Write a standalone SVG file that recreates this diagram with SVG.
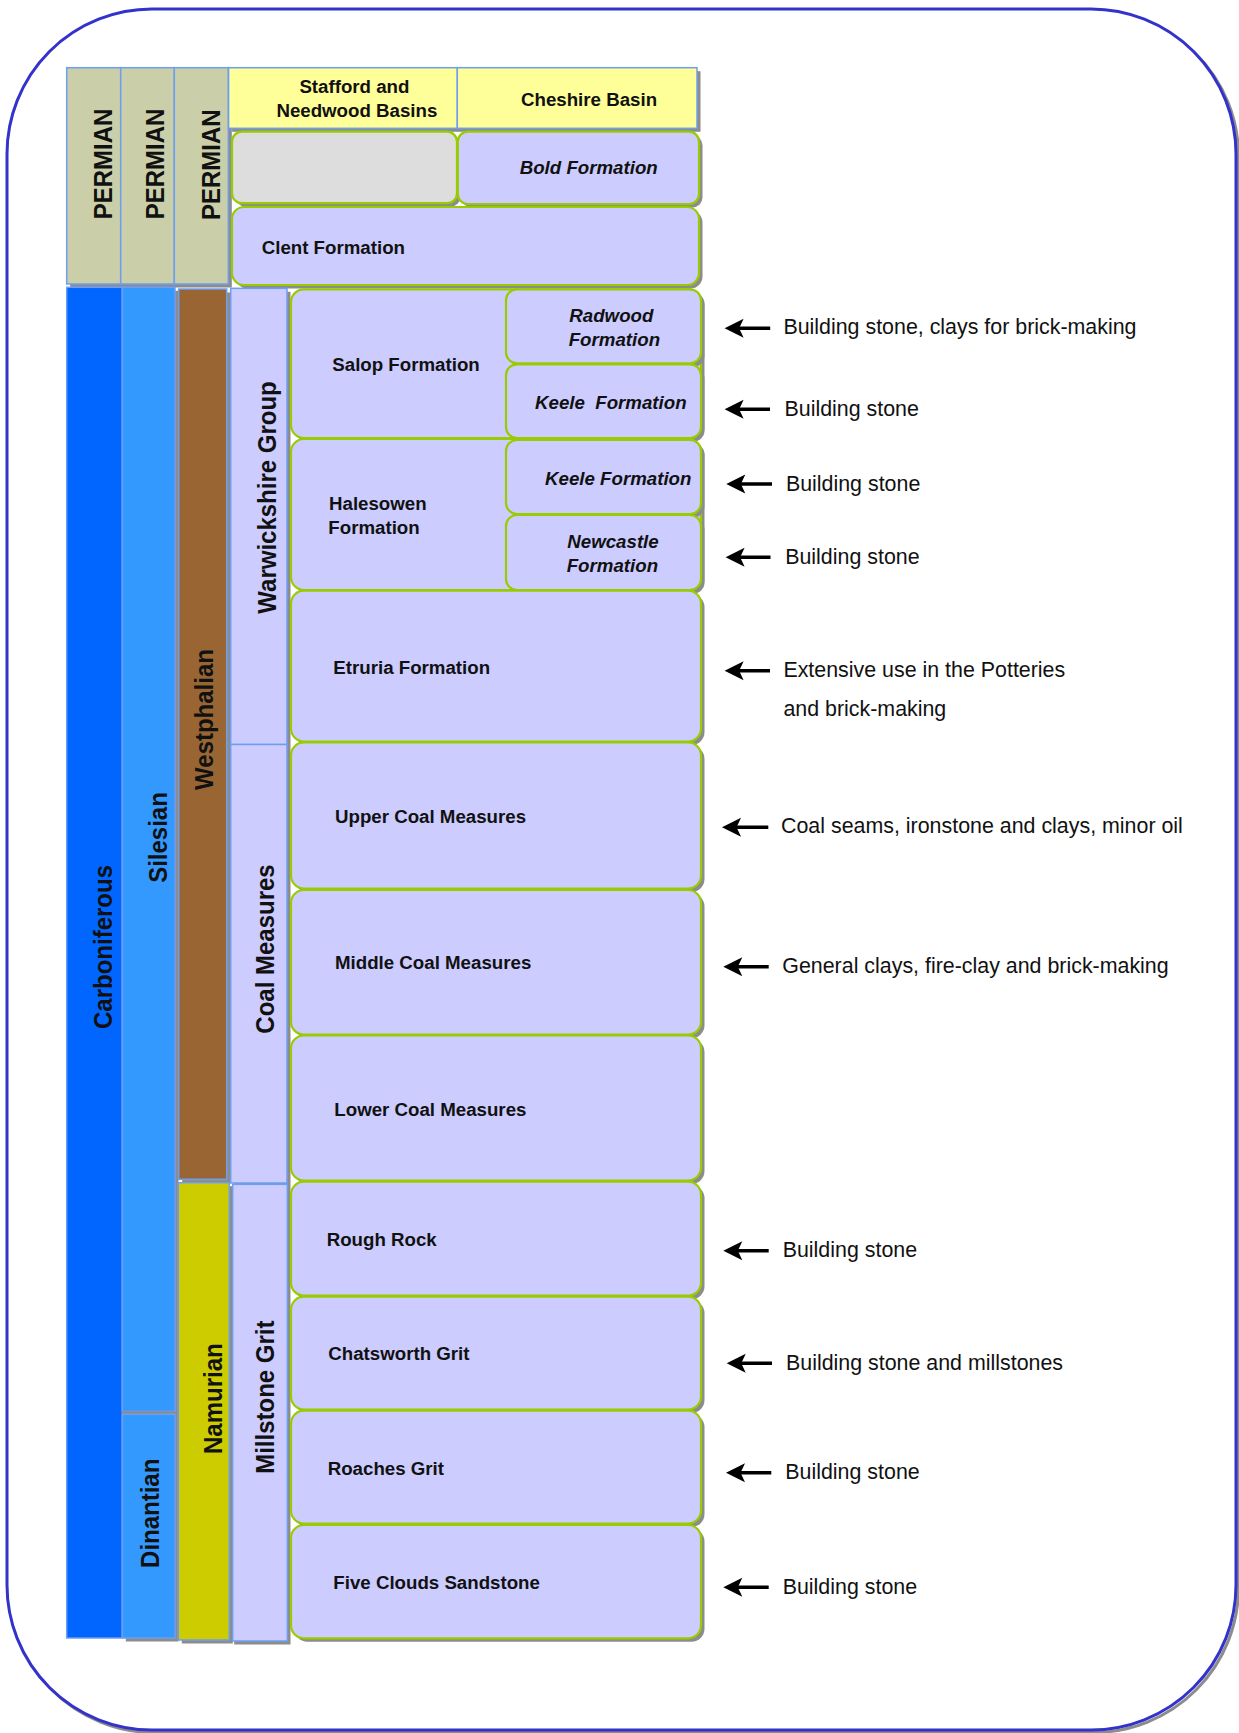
<svg xmlns="http://www.w3.org/2000/svg" width="1239" height="1733" viewBox="0 0 1239 1733">
  <defs>
    <style>
      .col { stroke: #6E9EF0; stroke-width: 1.5; }
      .shd { fill: #8C8C8C; }
      .box { fill: #CCCCFF; stroke: #99CC00; stroke-width: 2.2; }
      .lbl { font-family: "Liberation Sans", Arial, sans-serif; font-weight: bold; font-size: 18.7px; fill: #111; }
      .ital { font-style: italic; }
      .vert { font-family: "Liberation Sans", Arial, sans-serif; font-weight: bold; font-size: 24px; fill: #111; text-anchor: middle; }
      .use { font-family: "Liberation Sans", Arial, sans-serif; font-size: 21.4px; fill: #111; }
      .arrow { stroke: #000; stroke-width: 3.4; fill: none; }
    </style>
    <!-- barbed arrowhead; tip sits 10px beyond the line end -->
    <marker id="head" markerUnits="userSpaceOnUse" markerWidth="24" markerHeight="22" viewBox="-22 -11 24 22" refX="-10" refY="0" orient="auto">
      <path d="M0,0 Q-9,-4.5 -19,-9.5 Q-16.5,-4 -14.5,0 Q-16.5,4 -19,9.5 Q-9,4.5 0,0 Z" fill="#000"/>
    </marker>
  </defs>

  <rect width="1239" height="1733" fill="#FFFFFF"/>

  <!-- outer frame -->
  <g id="frame">
    <rect x="9.5" y="11.5" width="1229" height="1721" rx="145" ry="145" fill="none" stroke="#8C8C8C" stroke-width="3"/>
    <rect x="7" y="9" width="1229" height="1721" rx="145" ry="145" fill="#FFFFFF" stroke="#3333CC" stroke-width="3"/>
  </g>

  <!-- Permian cells -->
  <g id="permian">
    <rect class="shd" x="70.2" y="71.2" width="161.6" height="216.3"/>
    <g id="permian-1">
      <rect class="col" x="66.7" y="67.7" width="54" height="216.3" fill="#CACFA9"/>
      <text class="vert" transform="translate(111.6,164) rotate(-90) scale(1,1.08)">PERMIAN</text>
    </g>
    <g id="permian-2">
      <rect class="col" x="120.7" y="67.7" width="53.6" height="216.3" fill="#CACFA9"/>
      <text class="vert" transform="translate(164.4,164) rotate(-90) scale(1,1.08)">PERMIAN</text>
    </g>
    <g id="permian-3">
      <rect class="col" x="174.3" y="67.7" width="54" height="216.3" fill="#CACFA9"/>
      <text class="vert" transform="translate(219.5,164.7) rotate(-90) scale(1,1.08)">PERMIAN</text>
    </g>
  </g>

  <!-- basin headers -->
  <g id="headers">
    <rect class="shd" x="232.1" y="71.2" width="468.4" height="60.6"/>
    <g id="header-stafford">
      <rect class="col" x="228.6" y="67.7" width="228.7" height="60.6" fill="#FFFF99"/>
      <text class="lbl" x="299.4" y="92.7">Stafford and</text>
      <text class="lbl" x="276.4" y="117.3">Needwood Basins</text>
    </g>
    <g id="header-cheshire">
      <rect class="col" x="457.3" y="67.7" width="239.7" height="60.6" fill="#FFFF99"/>
      <text class="lbl" x="521" y="106">Cheshire Basin</text>
    </g>
  </g>

  <!-- Permian formations -->
  <g id="stafford-blank">
    <rect class="shd" x="235.5" y="135.2" width="225" height="71.5" rx="10"/>
    <rect x="232" y="131.7" width="225" height="71.5" rx="10" fill="#DDDDDD" stroke="#99CC00" stroke-width="2.2"/>
  </g>
  <g id="bold-formation">
    <rect class="shd" x="461.3" y="135.2" width="241.2" height="72.3" rx="10"/>
    <rect class="box" x="457.8" y="131.7" width="241.2" height="72.3" rx="10"/>
    <text class="lbl ital" x="519.7" y="174.3">Bold Formation</text>
  </g>
  <g id="clent-formation">
    <rect class="shd" x="235.5" y="210.5" width="467" height="78" rx="12"/>
    <rect class="box" x="232" y="207" width="467" height="78" rx="12"/>
    <text class="lbl" x="261.7" y="254">Clent Formation</text>
  </g>

  <!-- Carboniferous columns -->
  <g id="carboniferous">
    <rect class="col" x="66.7" y="287.3" width="55.6" height="1350.7" fill="#0066FF"/>
    <text class="vert" transform="translate(111.7,947) rotate(-90) scale(1,1.08)">Carboniferous</text>
  </g>
  <rect class="shd" x="125.8" y="290.8" width="52.7" height="1350.7"/>
  <g id="silesian">
    <rect class="col" x="122.3" y="287.3" width="52.7" height="1124" fill="#3399FF"/>
    <text class="vert" transform="translate(166.7,837.5) rotate(-90) scale(1,1.08)">Silesian</text>
  </g>
  <rect fill="#8C8C8C" x="122.3" y="1411.3" width="52.7" height="3"/>
  <g id="dinantian">
    <rect class="col" x="122.3" y="1414.3" width="52.7" height="223.7" fill="#3399FF"/>
    <text class="vert" transform="translate(158.6,1513.3) rotate(-90) scale(1,1.08)">Dinantian</text>
  </g>

  <g id="westphalian">
    <rect class="shd" x="182.2" y="292.5" width="48" height="890.3"/>
    <rect class="col" x="178.7" y="289" width="48" height="890.3" fill="#996633"/>
    <text class="vert" transform="translate(212.7,719.5) rotate(-90) scale(1,1.08)">Westphalian</text>
  </g>
  <g id="namurian">
    <rect class="shd" x="181.8" y="1186.2" width="51" height="457.3"/>
    <rect class="col" x="178.3" y="1182.7" width="51" height="457.3" fill="#CCCC00"/>
    <text class="vert" transform="translate(222,1398.7) rotate(-90) scale(1,1.08)">Namurian</text>
  </g>

  <rect class="shd" x="234.2" y="291.8" width="56.3" height="1352.7"/>
  <g id="warwickshire-group">
    <rect class="col" x="230.7" y="288.3" width="56.3" height="456.2" fill="#CCCCFF"/>
    <text class="vert" transform="translate(276,497.5) rotate(-90) scale(1,1.08)">Warwickshire Group</text>
  </g>
  <g id="coal-measures">
    <rect class="col" x="230.7" y="744.5" width="56.3" height="438.5" fill="#CCCCFF"/>
    <text class="vert" transform="translate(274,949) rotate(-90) scale(1,1.08)">Coal Measures</text>
  </g>
  <g id="millstone-grit">
    <rect class="col" x="232.7" y="1184.3" width="54.6" height="456.7" fill="#CCCCFF"/>
    <text class="vert" transform="translate(274,1397.2) rotate(-90) scale(1,1.08)">Millstone Grit</text>
  </g>

  <!-- formations -->
  <g id="salop-formation">
    <rect class="shd" x="294.5" y="292.8" width="410" height="148.7" rx="13"/>
    <rect class="box" x="291" y="289.3" width="410" height="148.7" rx="13"/>
    <text class="lbl" x="332.3" y="371">Salop Formation</text>
  </g>
  <g id="radwood-formation">
    <rect class="shd" x="509.5" y="292.8" width="195" height="74" rx="11"/>
    <rect class="box" x="506" y="289.3" width="195" height="74" rx="11"/>
    <text class="lbl ital" x="569.3" y="322.3">Radwood</text>
    <text class="lbl ital" x="568.7" y="346">Formation</text>
  </g>
  <g id="keele-formation-1">
    <rect class="shd" x="509.5" y="367.8" width="195" height="73.7" rx="11"/>
    <rect class="box" x="506" y="364.3" width="195" height="73.7" rx="11"/>
    <text class="lbl ital" x="535" y="409" xml:space="preserve">Keele  Formation</text>
  </g>
  <g id="halesowen-formation">
    <rect class="shd" x="294.5" y="442.5" width="410" height="151" rx="13"/>
    <rect class="box" x="291" y="439" width="410" height="151" rx="13"/>
    <text class="lbl" x="329" y="510">Halesowen</text>
    <text class="lbl" x="328.3" y="534">Formation</text>
  </g>
  <g id="keele-formation-2">
    <rect class="shd" x="509.5" y="443.5" width="195" height="74" rx="11"/>
    <rect class="box" x="506" y="440" width="195" height="74" rx="11"/>
    <text class="lbl ital" x="545" y="485">Keele Formation</text>
  </g>
  <g id="newcastle-formation">
    <rect class="shd" x="509.5" y="518.5" width="195" height="75" rx="11"/>
    <rect class="box" x="506" y="515" width="195" height="75" rx="11"/>
    <text class="lbl ital" x="567.3" y="547.7">Newcastle</text>
    <text class="lbl ital" x="566.7" y="571.7">Formation</text>
  </g>
  <g id="etruria-formation">
    <rect class="shd" x="294.5" y="594.1" width="410" height="150.9" rx="13"/>
    <rect class="box" x="291" y="590.6" width="410" height="150.9" rx="13"/>
    <text class="lbl" x="333.3" y="673.5">Etruria Formation</text>
  </g>
  <g id="upper-coal-measures">
    <rect class="shd" x="294.5" y="745.9" width="410" height="146.2" rx="13"/>
    <rect class="box" x="291" y="742.4" width="410" height="146.2" rx="13"/>
    <text class="lbl" x="335" y="823">Upper Coal Measures</text>
  </g>
  <g id="middle-coal-measures">
    <rect class="shd" x="294.5" y="893.5" width="410" height="144.7" rx="13"/>
    <rect class="box" x="291" y="890" width="410" height="144.7" rx="13"/>
    <text class="lbl" x="335" y="969.4">Middle Coal Measures</text>
  </g>
  <g id="lower-coal-measures">
    <rect class="shd" x="294.5" y="1039" width="410" height="145" rx="13"/>
    <rect class="box" x="291" y="1035.5" width="410" height="145" rx="13"/>
    <text class="lbl" x="334.3" y="1116">Lower Coal Measures</text>
  </g>
  <g id="rough-rock">
    <rect class="shd" x="294.5" y="1185.2" width="410" height="114" rx="13"/>
    <rect class="box" x="291" y="1181.7" width="410" height="114" rx="13"/>
    <text class="lbl" x="326.7" y="1246">Rough Rock</text>
  </g>
  <g id="chatsworth-grit">
    <rect class="shd" x="294.5" y="1300.2" width="410" height="112.8" rx="13"/>
    <rect class="box" x="291" y="1296.7" width="410" height="112.8" rx="13"/>
    <text class="lbl" x="328.3" y="1360">Chatsworth Grit</text>
  </g>
  <g id="roaches-grit">
    <rect class="shd" x="294.5" y="1414.2" width="410" height="112.8" rx="13"/>
    <rect class="box" x="291" y="1410.7" width="410" height="112.8" rx="13"/>
    <text class="lbl" x="327.7" y="1475">Roaches Grit</text>
  </g>
  <g id="five-clouds-sandstone">
    <rect class="shd" x="294.5" y="1528.5" width="410" height="113.3" rx="13"/>
    <rect class="box" x="291" y="1525" width="410" height="113.3" rx="13"/>
    <text class="lbl" x="333.3" y="1589">Five Clouds Sandstone</text>
  </g>

  <!-- pointers to economic uses (x2 = tip + 10) -->
  <g id="connectors">
    <line class="arrow" x1="770.2" y1="328.3" x2="734.6" y2="328.3" marker-end="url(#head)"/>
    <line class="arrow" x1="770" y1="409.3" x2="734.6" y2="409.3" marker-end="url(#head)"/>
    <line class="arrow" x1="772" y1="484" x2="736.3" y2="484" marker-end="url(#head)"/>
    <line class="arrow" x1="770.5" y1="557.3" x2="735.6" y2="557.3" marker-end="url(#head)"/>
    <line class="arrow" x1="770" y1="670.7" x2="734.6" y2="670.7" marker-end="url(#head)"/>
    <line class="arrow" x1="768.3" y1="827.3" x2="732" y2="827.3" marker-end="url(#head)"/>
    <line class="arrow" x1="768.7" y1="966.7" x2="733.3" y2="966.7" marker-end="url(#head)"/>
    <line class="arrow" x1="768.7" y1="1250.7" x2="733.3" y2="1250.7" marker-end="url(#head)"/>
    <line class="arrow" x1="772" y1="1363.3" x2="736.7" y2="1363.3" marker-end="url(#head)"/>
    <line class="arrow" x1="771.3" y1="1472.7" x2="736" y2="1472.7" marker-end="url(#head)"/>
    <line class="arrow" x1="768.7" y1="1587.3" x2="733.3" y2="1587.3" marker-end="url(#head)"/>
  </g>

  <g id="uses">
    <text class="use" x="783.4" y="334.3">Building stone, clays for brick-making</text>
    <text class="use" x="784.5" y="416">Building stone</text>
    <text class="use" x="785.9" y="490.7">Building stone</text>
    <text class="use" x="785.2" y="564">Building stone</text>
    <text class="use" x="783.4" y="677.3">Extensive use in the Potteries</text>
    <text class="use" x="783.4" y="716">and brick-making</text>
    <text class="use" x="781" y="833.3">Coal seams, ironstone and clays, minor oil</text>
    <text class="use" x="782.3" y="973.3">General clays, fire-clay and brick-making</text>
    <text class="use" x="782.7" y="1257.3">Building stone</text>
    <text class="use" x="786" y="1370">Building stone and millstones</text>
    <text class="use" x="785.3" y="1479.3">Building stone</text>
    <text class="use" x="782.7" y="1594">Building stone</text>
  </g>
</svg>
